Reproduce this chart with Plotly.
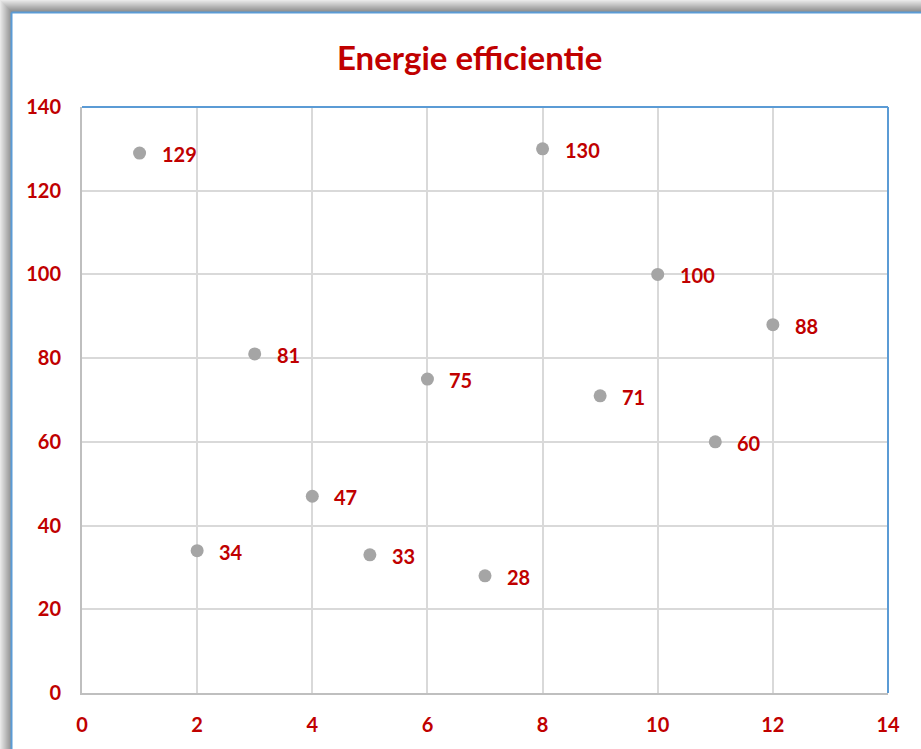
import plotly.graph_objects as go

# Measurements
x_values = [1, 2, 3, 4, 5, 6, 7, 8, 9, 10, 11, 12]
y_values = [129, 34, 81, 47, 33, 75, 28, 130, 71, 100, 60, 88]

title_text = "Energie efficientie"
x_ticks = [0, 2, 4, 6, 8, 10, 12, 14]
y_ticks = [0, 20, 40, 60, 80, 100, 120, 140]

RED = "#C00000"
FONT = "Lato"
W, H = 921, 749
L, R, T, B = 82, 33, 107, 56
PW, PH = W - L - R, H - T - B


def px(xp):
    return (xp - L) / PW


def py(yp):
    return (H - B - yp) / PH


fig = go.Figure()
fig.add_trace(go.Scatter(
    x=x_values, y=y_values, mode="markers",
    marker=dict(size=13, color="#A5A5A5"),
    hoverinfo="x+y", showlegend=False,
))

annotations = [
    dict(x=xv, y=yv, text=str(yv), xref="x", yref="y",
         xanchor="left", yanchor="middle", xshift=20, yshift=-1, showarrow=False,
         font=dict(family=FONT, size=20, color=RED, weight="bold"))
    for xv, yv in zip(x_values, y_values)
]
annotations.append(dict(
    x=px(469), y=py(57), xref="paper", yref="paper", text=title_text,
    xanchor="center", yanchor="middle", showarrow=False,
    font=dict(family=FONT, size=33, color=RED, weight="bold"),
))

shapes = []
# drop shadow along the top and left edges of the frame
n = 12
for i in range(n):
    t = i / (n - 1)
    c = int(232 - 90 * t)
    col = f"rgb({c},{c},{c})"
    shapes.append(dict(type="rect", xref="paper", yref="paper",
                       x0=px(i), x1=px(W + 5), y0=py(i), y1=py(i + 1),
                       line=dict(width=0), fillcolor=col, layer="below"))
    shapes.append(dict(type="rect", xref="paper", yref="paper",
                       x0=px(i), x1=px(i + 1), y0=py(i), y1=py(H + 5),
                       line=dict(width=0), fillcolor=col, layer="below"))
# blue frame
shapes.append(dict(type="line", xref="paper", yref="paper",
                   x0=px(11.5), x1=px(W + 5), y0=py(12.5), y1=py(12.5),
                   line=dict(color="#5B9BD5", width=2)))
shapes.append(dict(type="line", xref="paper", yref="paper",
                   x0=px(11.5), x1=px(11.5), y0=py(12.5), y1=py(H + 5),
                   line=dict(color="#5B9BD5", width=2)))
# plot-area border: blue on top and right
shapes.append(dict(type="line", xref="paper", yref="paper",
                   x0=0, x1=1, y0=1, y1=1, line=dict(color="#5B9BD5", width=2)))
shapes.append(dict(type="line", xref="paper", yref="paper",
                   x0=1, x1=1, y0=0, y1=1, line=dict(color="#5B9BD5", width=2)))

tick_font = dict(family=FONT, size=20, color=RED, weight="bold")
fig.update_layout(
    width=W, height=H,
    margin=dict(l=L, r=R, t=T, b=B, pad=0),
    paper_bgcolor="white", plot_bgcolor="white",
    xaxis=dict(range=[0, 14], tickvals=x_ticks, ticktext=[str(v) for v in x_ticks],
               showgrid=True, gridcolor="#D9D9D9", gridwidth=2,
               showline=True, linecolor="#BFBFBF", linewidth=2,
               zeroline=False, ticks="", ticklabelstandoff=13, tickfont=tick_font,
               fixedrange=True),
    yaxis=dict(range=[0, 140], tickvals=y_ticks, ticktext=[str(v) for v in y_ticks],
               showgrid=True, gridcolor="#D9D9D9", gridwidth=2,
               showline=True, linecolor="#BFBFBF", linewidth=2,
               zeroline=False, ticks="", ticklabelstandoff=15, tickfont=tick_font,
               fixedrange=True),
    annotations=annotations,
    shapes=shapes,
    showlegend=False,
)

fig.write_html("out.html")
